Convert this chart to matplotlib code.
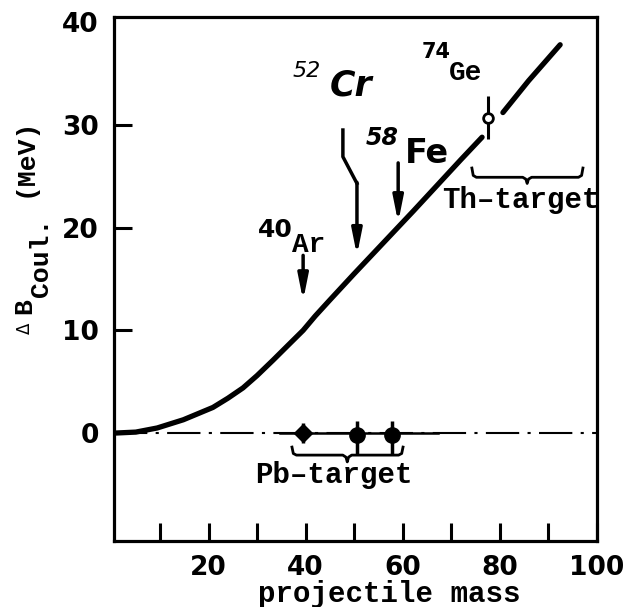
import matplotlib
matplotlib.use("Agg")
import matplotlib.pyplot as plt

# curve: Coulomb barrier shift vs projectile mass
mass = [0.5, 5, 9.4, 14.8, 20.9, 24, 27.1, 30, 33.3, 36.5, 39.5, 42, 45, 50, 55.4, 62.2, 67.3, 72, 76.4]
dB = [0.0, 0.1, 0.5, 1.3, 2.5, 3.4, 4.4, 5.6, 7.1, 8.6, 10.0, 11.4, 12.95, 15.5, 18.2, 21.6, 24.2, 26.6, 28.8]
mass_hi = [80.7, 86, 92.5]
dB_hi = [31.2, 34.3, 37.8]

# Pb-target points
pb_mass = [39.5, 50.6, 57.9]
pb_dB = [0.0, -0.2, -0.2]
pb_err_lo = [1.0, 1.8, 1.8]
pb_err_hi = [1.0, 1.4, 1.4]
pb_span = [34.8, 67.4]

# Th-target point
th_mass = [77.6]
th_dB = [30.7]
th_err = [2.1]

xticks = [20, 40, 60, 80, 100]
yticks = [0, 10, 20, 30, 40]

fig = plt.figure(figsize=(6.39, 6.07), dpi=100)
ax = fig.add_axes([114 / 639, 1 - 541 / 607, 483 / 639, 524 / 607])
ax.set_xlim(0.5, 100.1)
ax.set_ylim(-10.5, 40.5)

for s in ax.spines.values():
    s.set_linewidth(2.3)

ax.set_xticks(xticks)
ax.set_xticks([10, 30, 50, 70, 90], minor=True)
ax.set_yticks(yticks)
ax.tick_params(axis="both", which="both", direction="in", length=13, width=2.2)
ax.tick_params(axis="x", pad=10)
ax.tick_params(axis="y", pad=11)
for lab in ax.get_xticklabels() + ax.get_yticklabels():
    lab.set_fontsize(19)
    lab.set_fontweight("bold")
ytk = ax.yaxis.get_major_ticks()
ytk[0].tick1line.set_visible(False)
ytk[-1].tick1line.set_visible(False)

# baseline
ax.plot([0.5, 100.1], [0, 0], color="k", lw=1.5, dashes=(16, 4, 1.5, 4))
ax.plot(pb_span, [0, 0], color="k", lw=1.8)

# curve
ax.plot(mass, dB, color="k", lw=3.8, solid_capstyle="round", solid_joinstyle="round")
ax.plot(mass_hi, dB_hi, color="k", lw=3.8, solid_capstyle="round", solid_joinstyle="round")

# Pb-target points
ax.errorbar(pb_mass[:1], pb_dB[:1], yerr=[pb_err_lo[:1], pb_err_hi[:1]], fmt="D",
            ms=9, color="k", elinewidth=2.5, capsize=0)
ax.errorbar(pb_mass[1:], pb_dB[1:], yerr=[pb_err_lo[1:], pb_err_hi[1:]], fmt="o",
            ms=11, color="k", elinewidth=2.5, capsize=0)

# Th-target point
ax.errorbar(th_mass, th_dB, yerr=th_err, fmt="o", ms=7, mfc="white", mec="k",
            mew=2, color="k", elinewidth=2.2, capsize=0)


def brace(x0, x1, xc, top, base, tip):
    d = (x1 - x0) * 0.04
    xs = [x0, x0 + d * 0.3, x0 + d, xc - d, xc - d * 0.3, xc,
          xc + d * 0.3, xc + d, x1 - d, x1 - d * 0.3, x1]
    ys = [top, base + (top - base) * 0.2, base, base, base + (tip - base) * 0.3, tip,
          base + (tip - base) * 0.3, base, base, base + (top - base) * 0.2, top]
    ax.plot(xs, ys, color="k", lw=2)


brace(37.2, 60.1, 48.6, -1.36, -2.14, -2.8)
brace(74.3, 97.2, 85.7, 25.8, 24.9, 24.3)

mono = dict(family="Liberation Mono", fontweight="bold", color="k")
ax.text(29.6, -4.9, "Pb\u2013target", fontsize=21, va="baseline", **mono)
ax.text(68.1, 21.9, "Th\u2013target", fontsize=21, va="baseline", **mono)

# element labels
ax.text(37.4, 34.7, "52", fontsize=16, style="italic", va="baseline")
ax.text(45.0, 32.9, "Cr", fontsize=25, style="italic", fontweight="bold", va="baseline")
ax.text(64.0, 36.5, "74", fontsize=15, fontweight="bold", va="baseline")
ax.text(69.6, 34.4, "Ge", fontsize=20, va="baseline", **mono)
ax.text(52.3, 28.0, "58", fontsize=17, fontweight="bold", style="italic", va="baseline")
ax.text(60.5, 26.3, "Fe", fontsize=24, fontweight="bold", va="baseline")
ax.text(30.2, 19.1, "40", fontsize=18, fontweight="bold", va="baseline")
ax.text(37.2, 17.6, "Ar", fontsize=20, va="baseline", **mono)

# arrows
arr = dict(arrowstyle="-|>,head_length=1.0,head_width=0.2", lw=2.5, color="k",
           mutation_scale=15, shrinkA=0, shrinkB=0)
ax.plot([47.7, 47.7, 50.6], [29.5, 26.9, 24.3], color="k", lw=2.5)
ax.annotate("", xy=(50.6, 17.3), xytext=(50.6, 24.4), arrowprops=arr)
ax.annotate("", xy=(59.1, 20.5), xytext=(59.1, 26.3), arrowprops=arr)
ax.annotate("", xy=(39.5, 12.9), xytext=(39.5, 17.3), arrowprops=arr)

# axis labels
fig.text(258 / 639, 1 - 602 / 607, "projectile mass", fontsize=21, va="baseline", **mono)
fig.text(25 / 639, 1 - 328 / 607, "\u0394", fontsize=12, rotation=90, ha="center", va="center")
fig.text(24 / 639, 1 - 306 / 607, "B", fontsize=19, rotation=90, ha="center", va="center", **mono)
fig.text(41 / 639, 1 - 257 / 607, "Coul.", fontsize=19, rotation=90, ha="center", va="center", **mono)
fig.text(25 / 639, 1 - 157 / 607, "(MeV)", fontsize=19, rotation=90, ha="center", va="center", **mono)

fig.savefig("out.png", dpi=100)
